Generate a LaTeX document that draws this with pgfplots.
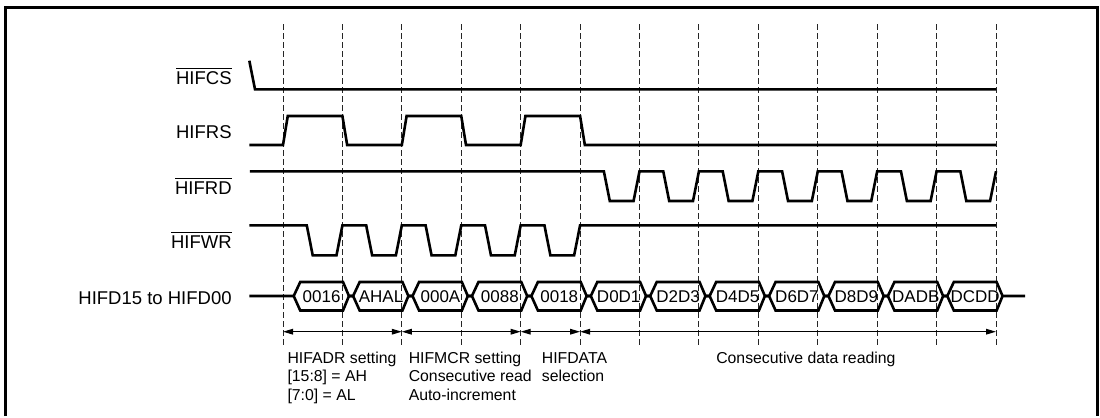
\documentclass[border=0pt]{standalone}
\usepackage{pgfplots}
\pgfplotsset{compat=1.18}
\usepackage{fontspec}
\setmainfont{Liberation Sans}
\usetikzlibrary{arrows.meta}
\tikzset{
  sig/.style={line width=1.3pt, black, line join=miter, miter limit=4},
  lab/.style={font=\fontsize{9.25}{11}\selectfont, anchor=base east, inner sep=0pt},
  hex/.style={font=\fontsize{8.5}{10}\selectfont, anchor=center, inner sep=0pt},
  bot/.style={font=\fontsize{7.9}{9}\selectfont, anchor=base west, inner sep=0pt},
  arr/.style={line width=0.6pt, black, {Triangle[length=5pt,width=2.8pt]}-{Triangle[length=5pt,width=2.8pt]}},
}

\begin{document}
\begin{tikzpicture}
\begin{axis}[
  scale only axis, width=550pt, height=207.5pt,
  xmin=-4.7630, xmax=13.7503, ymin=0, ymax=415, y dir=reverse,
  hide axis, clip=false,
]
\path (rel axis cs:0,0) rectangle (rel axis cs:1,1);

% frame (open at bottom)
\addplot[no markers, line width=1.3pt, black, line join=miter] coordinates {(-4.674,416) (-4.674,7.3) (13.708,7.3) (13.708,416)};

% dashed time markers
\pgfplotsinvokeforeach{0,...,12}{
  \addplot[no markers, line width=0.5pt, black!85, dash pattern=on 3pt off 1.5pt] coordinates {(#1,24) (#1,345)};
}

% HIFCS
\addplot[no markers, sig] coordinates {(-0.567,60.7) (-0.471,89.3) (12,89.3)};

% HIFRS
\addplot[no markers, sig] coordinates {(-0.567,145) (0,145) (0.08,116) (1,116) (1.08,145) (2,145) (2.08,116) (3,116) (3.08,145) (4,145) (4.08,116) (5,116) (5.08,145) (12,145)};

% HIFRD
\addplot[no markers, sig] coordinates {(-0.556,171.3) (5.4,171.3) (5.5,201) (5.9,201) (6,171.3)
  (6.4,171.3) (6.5,201) (6.9,201) (7,171.3)
  (7.4,171.3) (7.5,201) (7.9,201) (8,171.3)
  (8.4,171.3) (8.5,201) (8.9,201) (9,171.3)
  (9.4,171.3) (9.5,201) (9.9,201) (10,171.3)
  (10.4,171.3) (10.5,201) (10.9,201) (11,171.3)
  (11.4,171.3) (11.5,201) (11.9,201) (12,171.3)};

% HIFWR
\addplot[no markers, sig] coordinates {(-0.567,225.3) (0.4,225.3) (0.5,255.3) (0.9,255.3) (1,225.3)
  (1.4,225.3) (1.5,255.3) (1.9,255.3) (2,225.3)
  (2.4,225.3) (2.5,255.3) (2.9,255.3) (3,225.3)
  (3.4,225.3) (3.5,255.3) (3.9,255.3) (4,225.3)
  (4.4,225.3) (4.5,255.3) (4.9,255.3) (5,225.3) (12,225.3)};

% HIFD bus: upper outline
\addplot[no markers, sig] coordinates {(-0.567,296) (0.18,296) (0.29,282) (1.01,282) (1.11,296)
  (1.18,296) (1.29,282) (2.01,282) (2.11,296)
  (2.18,296) (2.29,282) (3.01,282) (3.11,296)
  (3.18,296) (3.29,282) (4.01,282) (4.11,296)
  (4.18,296) (4.29,282) (5.01,282) (5.11,296)
  (5.18,296) (5.29,282) (6.01,282) (6.11,296)
  (6.18,296) (6.29,282) (7.01,282) (7.11,296)
  (7.18,296) (7.29,282) (8.01,282) (8.11,296)
  (8.18,296) (8.29,282) (9.01,282) (9.11,296)
  (9.18,296) (9.29,282) (10.01,282) (10.11,296)
  (10.18,296) (10.29,282) (11.01,282) (11.11,296)
  (11.18,296) (11.29,282) (12.01,282) (12.11,296) (12.49,296)};
% HIFD bus: lower outline
\addplot[no markers, sig] coordinates {(0.18,296) (0.29,310.5) (1.01,310.5) (1.11,296)
  (1.18,296) (1.29,310.5) (2.01,310.5) (2.11,296)
  (2.18,296) (2.29,310.5) (3.01,310.5) (3.11,296)
  (3.18,296) (3.29,310.5) (4.01,310.5) (4.11,296)
  (4.18,296) (4.29,310.5) (5.01,310.5) (5.11,296)
  (5.18,296) (5.29,310.5) (6.01,310.5) (6.11,296)
  (6.18,296) (6.29,310.5) (7.01,310.5) (7.11,296)
  (7.18,296) (7.29,310.5) (8.01,310.5) (8.11,296)
  (8.18,296) (8.29,310.5) (9.01,310.5) (9.11,296)
  (9.18,296) (9.29,310.5) (10.01,310.5) (10.11,296)
  (10.18,296) (10.29,310.5) (11.01,310.5) (11.11,296)
  (11.18,296) (11.29,310.5) (12.01,310.5) (12.11,296)};

% phase arrows
\addplot[no markers, arr] coordinates {(0,331.7) (2,331.7)};
\addplot[no markers, arr] coordinates {(2,331.7) (4,331.7)};
\addplot[no markers, arr] coordinates {(4,331.7) (5,331.7)};
\addplot[no markers, arr] coordinates {(5,331.7) (12,331.7)};

% signal names
\node[lab] at (axis cs:-0.858,84) {$\overline{\mbox{HIFCS}}$};
\node[lab] at (axis cs:-0.858,138.3) {HIFRS};
\node[lab] at (axis cs:-0.858,194) {$\overline{\mbox{HIFRD}}$};
\node[lab] at (axis cs:-0.858,248.3) {$\overline{\mbox{HIFWR}}$};
\node[lab] at (axis cs:-0.858,304) {HIFD15 to HIFD00};

% bus values
\node[hex] at (axis cs:0.65,297) {0016};
\node[hex] at (axis cs:1.65,297) {AHAL};
\node[hex] at (axis cs:2.65,297) {000A};
\node[hex] at (axis cs:3.65,297) {0088};
\node[hex] at (axis cs:4.65,297) {0018};
\node[hex] at (axis cs:5.65,297) {D0D1};
\node[hex] at (axis cs:6.65,297) {D2D3};
\node[hex] at (axis cs:7.65,297) {D4D5};
\node[hex] at (axis cs:8.65,297) {D6D7};
\node[hex] at (axis cs:9.65,297) {D8D9};
\node[hex] at (axis cs:10.65,297) {DADB};
\node[hex] at (axis cs:11.65,297) {DCDD};

% phase descriptions
\node[bot] at (axis cs:0.07,363.5) {HIFADR setting};
\node[bot] at (axis cs:0.07,381.7) {[15:8] = AH};
\node[bot] at (axis cs:0.07,400) {[7:0] = AL};
\node[bot] at (axis cs:2.11,363.5) {HIFMCR setting};
\node[bot] at (axis cs:2.11,381.7) {Consecutive read};
\node[bot] at (axis cs:2.11,400) {Auto-increment};
\node[bot] at (axis cs:4.35,363.5) {HIFDATA};
\node[bot] at (axis cs:4.35,381.7) {selection};
\node[bot, anchor=base] at (axis cs:8.80,363.5) {Consecutive data reading};
\end{axis}
\end{tikzpicture}
\end{document}
